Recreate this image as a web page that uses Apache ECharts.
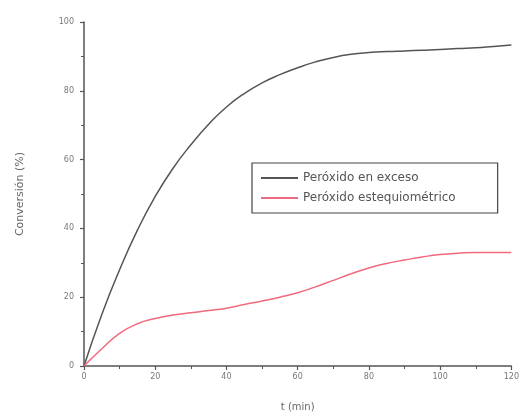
<!DOCTYPE html>
<html>
<head>
<meta charset="utf-8">
<script src="https://cdn.jsdelivr.net/npm/echarts@6/dist/echarts.min.js"></script>
<style>
  html, body { margin: 0; padding: 0; background: #fff; }
  #chart { width: 522px; height: 417px; }
</style>
</head>
<body>
<div id="chart"></div>
<script>
// Reaction time (min)
const timeMin = [0, 5, 10, 15, 20, 25, 30, 35, 40, 45, 50, 55, 60, 65, 70, 75, 80, 85, 90, 95, 100, 105, 110, 115, 120];
// Conversion (%) with excess peroxide
const excesoValues = [0, 15, 28, 39.5, 49.3, 57.5, 64.3, 70.3, 75.3, 79.2, 82.3, 84.7, 86.7, 88.4, 89.7, 90.6, 91.1, 91.4, 91.6, 91.8, 92, 92.3, 92.5, 92.9, 93.3];
// Conversion (%) with stoichiometric peroxide
const estequioValues = [0, 5, 9.5, 12.3, 13.8, 14.8, 15.5, 16.1, 16.8, 17.9, 18.9, 20, 21.3, 23, 24.9, 26.8, 28.5, 29.8, 30.8, 31.7, 32.4, 32.8, 33, 33, 33];
const seriesNames = ['Peróxido en exceso', 'Peróxido estequiométrico'];
const xTicks = [0, 20, 40, 60, 80, 100, 120];
const yTicks = [0, 20, 40, 60, 80, 100];

const pairs = vals => timeMin.map((t, i) => [t, vals[i]]);

const axisGray = '#555';
const labelGray = '#777';
const font = 'DejaVu Sans, Arial, sans-serif';

const chart = echarts.init(document.getElementById('chart'), null, { renderer: 'canvas' });
chart.setOption({
  animation: false,
  backgroundColor: '#fff',
  grid: { left: 84, right: 9, top: 22, bottom: 50 },
  xAxis: {
    type: 'value',
    min: xTicks[0], max: xTicks[xTicks.length - 1], interval: 20,
    name: 't (min)', nameLocation: 'middle', nameGap: 36,
    nameTextStyle: { color: '#666', fontSize: 10, fontFamily: font },
    axisLine: { show: true, lineStyle: { color: axisGray, width: 1.5 } },
    axisTick: { show: true, length: 4, lineStyle: { color: axisGray, width: 1.2 } },
    minorTick: { show: true, splitNumber: 2, length: 3, lineStyle: { color: axisGray, width: 1 } },
    splitLine: { show: false },
    axisLabel: { color: labelGray, fontSize: 8, fontFamily: font, margin: 7 }
  },
  yAxis: {
    type: 'value',
    min: yTicks[0], max: yTicks[yTicks.length - 1], interval: 20,
    name: 'Conversión (%)', nameLocation: 'middle', nameGap: 58,
    nameTextStyle: { color: '#666', fontSize: 11, fontFamily: font },
    axisLine: { show: true, lineStyle: { color: axisGray, width: 1.5 } },
    axisTick: { show: true, length: 4, lineStyle: { color: axisGray, width: 1.2 } },
    minorTick: { show: true, splitNumber: 2, length: 3, lineStyle: { color: axisGray, width: 1 } },
    splitLine: { show: false },
    axisLabel: { color: labelGray, fontSize: 8, fontFamily: font, margin: 10 }
  },
  legend: {
    orient: 'vertical',
    left: 252, top: 163,
    padding: [8, 42, 8, 8],
    itemWidth: 37, itemHeight: 14, itemGap: 6,
    itemStyle: { opacity: 0 },
    borderColor: '#444', borderWidth: 1.2, borderRadius: 0,
    textStyle: { color: '#555', fontSize: 12, fontFamily: font, lineHeight: 14 },
    data: seriesNames
  },
  series: [
    {
      name: seriesNames[0], type: 'line', data: pairs(excesoValues),
      smooth: 0.5, symbol: 'none',
      lineStyle: { color: '#555', width: 1.5 }, itemStyle: { color: '#555' }
    },
    {
      name: seriesNames[1], type: 'line', data: pairs(estequioValues),
      smooth: 0.5, symbol: 'none',
      lineStyle: { color: '#f06a7e', width: 1.5 }, itemStyle: { color: '#f06a7e' }
    }
  ]
});
</script>
</body>
</html>
